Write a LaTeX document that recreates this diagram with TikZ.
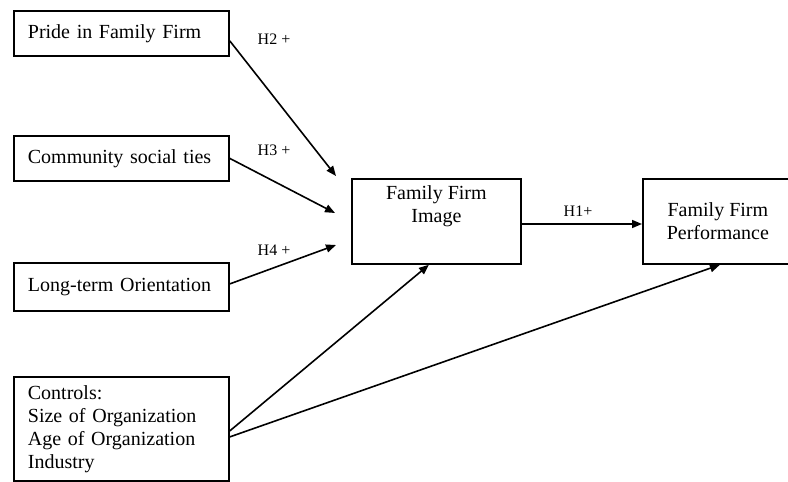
\documentclass[tikz,border=0pt]{standalone}
\usepackage{fontspec}
\setmainfont{Liberation Serif}
\usetikzlibrary{arrows.meta}

\begin{document}
\begin{tikzpicture}[x=0.5pt,y=-0.5pt,
  box/.style={draw,line width=0.9pt,inner xsep=7pt,font=\fontsize{10}{11.5}\selectfont},
  factor/.style={box,anchor=north west,text width=93.5pt,align=left,minimum height=22.5pt},
  outcome/.style={box,anchor=north west,align=center,minimum height=42.5pt},
  hyp/.style={font=\fontsize{8}{9}\selectfont},
  link/.style={line width=0.8pt,-{Triangle[length=5pt,width=4pt]}}]
 \useasboundingbox (0,0) rectangle (788,482);
 \clip (0,0) rectangle (788,482);

 % antecedents
 \node[factor] (pride) at (13,10) {Pride in Family Firm};
 \node[factor] (ties) at (13,135) {Community social ties};
 \node[factor,minimum height=24pt] (lto) at (13,262) {Long-term Orientation};
 \node[factor,minimum height=52pt] (ctrl) at (13,376)
   {Controls:\\Size of Organization\\Age of Organization\\Industry};

 % image and performance
 \node[outcome,minimum width=84.5pt,text depth=17pt] (img) at (351,178) {Family Firm\\Image};
 \node[outcome,minimum width=75pt] (perf) at (642,178) {Family Firm\\Performance};

 \coordinate (h2end) at (336,176);
 \coordinate (h3end) at (335,213);
 \coordinate (h4end) at (336,245);

 \draw[link] ([yshift=-3.75pt]pride.east) -- (h2end);
 \draw[link] (ties.east) -- (h3end);
 \draw[link] ([yshift=1.5pt]lto.east) -- (h4end);
 \draw[link] (img.east |- 0,224) -- (perf.west |- 0,224);
 \draw[link] ([yshift=-1pt]ctrl.east) -- ([xshift=-3.75pt]img.south);
 \draw[link] ([yshift=-4pt]ctrl.east) -- ([xshift=1pt]perf.south);

 \node[hyp] (h2) at (274,39) {H2 +};
 \node[hyp] (h3) at (274,150) {H3 +};
 \node[hyp] (h4) at (274,250) {H4 +};
 \node[hyp] (h1) at (578,211) {H1+};
\end{tikzpicture}
\end{document}
